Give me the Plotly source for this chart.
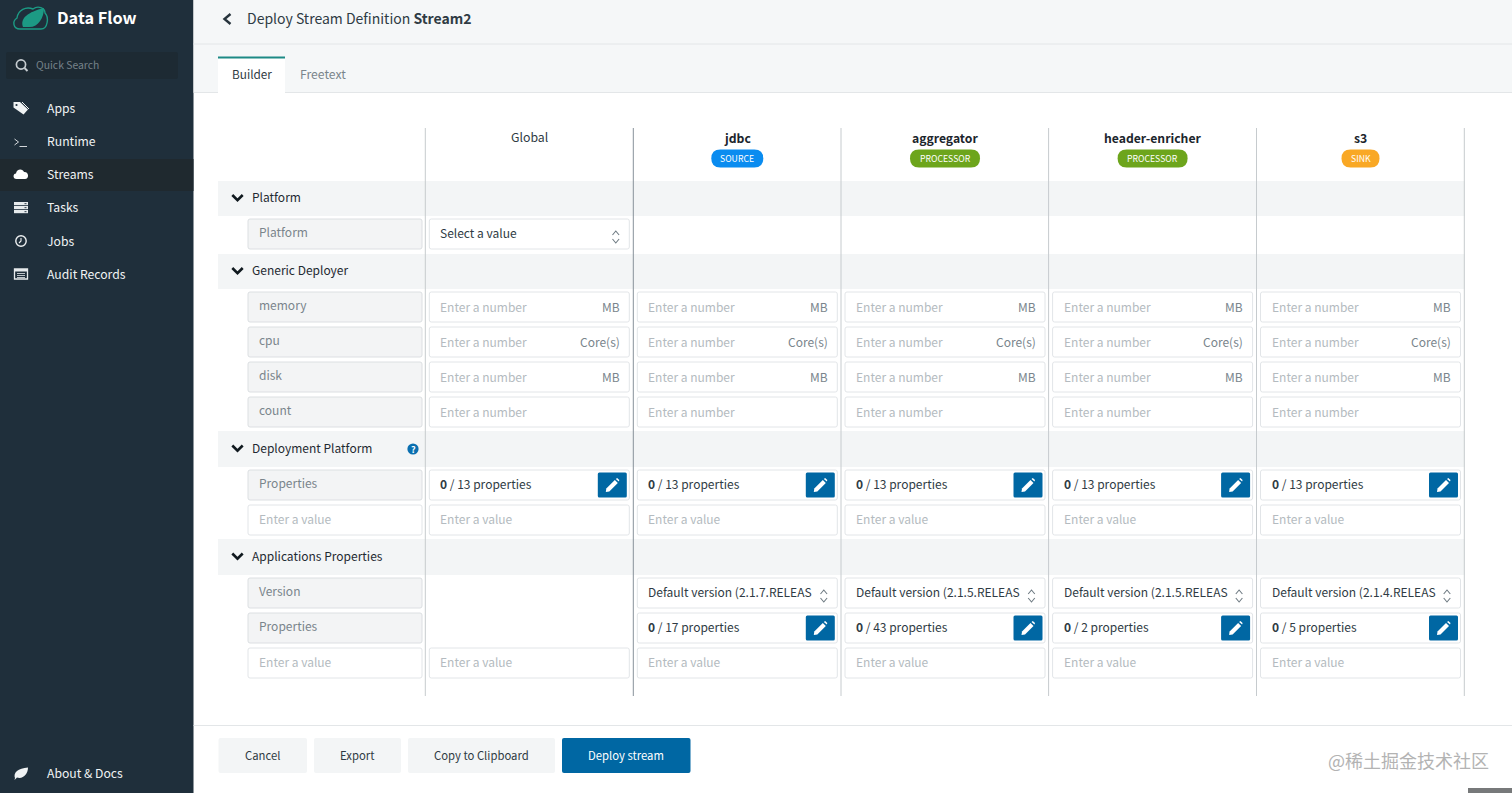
import plotly.graph_objects as go

# text content of the screen
nav_items = ["Apps", "Runtime", "Streams", "Tasks", "Jobs", "Audit Records"]
columns = ["Global", "jdbc", "aggregator", "header-enricher", "s3"]
badges = [None, "SOURCE", "PROCESSOR", "PROCESSOR", "SINK"]
generic_rows = ["memory", "cpu", "disk", "count"]
generic_units = ["MB", "Core(s)", "MB", None]
deploy_props = [13, 13, 13, 13, 13]
app_versions = [None, "2.1.7.RELEAS", "2.1.5.RELEAS", "2.1.5.RELEAS", "2.1.4.RELEAS"]
app_props = [None, 17, 43, 2, 5]
footer_buttons = ["Cancel", "Export", "Copy to Clipboard", "Deploy stream"]

FONT = "Noto Sans CJK SC"
BODY = 12
DARK = "#1f2f3b"
TEXT = "#2f3b44"
MUTED = "#7a858c"
HOLDER = "#b4bbc0"
BLUE = "#0067a3"
BAND = "#f3f5f6"
EDGE = "#e2e5e8"
LABEL_EDGE = "#dcdfe2"
BADGE_COLORS = {"SOURCE": "#0a8cf0", "PROCESSOR": "#6da51c", "SINK": "#f9a825"}

shapes = []
notes = []


def rect(x0, y0, x1, y1, fill, line=None, r=0, lw=1):
    if r:
        path = (f"M{x0+r},{y0} L{x1-r},{y0} Q{x1},{y0} {x1},{y0+r} L{x1},{y1-r} Q{x1},{y1} {x1-r},{y1} "
                f"L{x0+r},{y1} Q{x0},{y1} {x0},{y1-r} L{x0},{y0+r} Q{x0},{y0} {x0+r},{y0} Z")
        shapes.append(dict(type="path", path=path, fillcolor=fill, line=dict(color=line or fill, width=lw if line else 0)))
    else:
        shapes.append(dict(type="rect", x0=x0, y0=y0, x1=x1, y1=y1, fillcolor=fill, line=dict(color=line or fill, width=lw if line else 0)))


def stroke(path, color, lw=1.0):
    shapes.append(dict(type="path", path=path, line=dict(color=color, width=lw)))


def blob(path, color):
    shapes.append(dict(type="path", path=path, fillcolor=color, line=dict(color=color, width=0)))


def circle(cx, cy, r, fill=None, line=None, lw=1.0):
    shapes.append(dict(type="circle", x0=cx-r, y0=cy-r, x1=cx+r, y1=cy+r, fillcolor=fill or "rgba(0,0,0,0)",
                       line=dict(color=line or fill, width=lw if line else 0)))


def text(x, y, s, size=BODY, color=TEXT, anchor="left"):
    # annotations sit about a pixel low and, when left aligned, a pixel right
    if anchor == "left":
        x -= 1
    notes.append(dict(x=x, y=y - 1, text=s, showarrow=False, xanchor=anchor, yanchor="middle", borderpad=0,
                      font=dict(family=FONT, size=size, color=color)))


def chevron(cx, cy, half, depth, color, lw):
    stroke(f"M{cx-half},{cy} L{cx},{cy+depth} L{cx+half},{cy}", color, lw)


# sidebar
rect(0, 0, 193.5, 793, DARK)
rect(0, 159, 193.5, 191, "#1f292f")
rect(6, 52, 178, 79, "#1d2a33", r=2)
text(57, 18, "<b>Data Flow</b>", 16.3, "#ffffff")
text(36, 65, "Quick Search", 10.4, "#76828a")
circle(21, 64.5, 4.6, line="#c6ccd0", lw=1.7)
stroke("M24.5,68 L27.5,71", "#c6ccd0", 1.9)
nav_y = [109, 142, 175, 208, 242, 275]
for name, y in zip(nav_items, nav_y):
    text(47, y, name, 12.2, "#f0f3f4")
text(47, 774, "About & Docs", 12.2, "#f0f3f4")

# logo
stroke("M20,29 C13,29 12,21 17,18 C18,10 26,6 33,9 C38,5 45,8 45,13 C49,17 48,29 41,29 Z", "#1c9a84", 1.4)
blob("M23,27 C20,18 28,12 44,8 C44,18 38,28 28,27 Z", "#1c9a84")

# nav icons
blob("M13.5,102 L20,102 L28,109.5 L23.5,114.5 L13.5,107.5 Z", "#f0f3f4")
stroke("M22,102 L29,109", "#f0f3f4", 1)
circle(16.5, 105, 1.1, fill=DARK)
stroke("M14.5,139 L18.5,142 L14.5,145 M19.5,146.5 L27,146.5", "#e6eaec", 0.9)
blob("M16.5,179 C12.5,179 12.8,173.5 16,173.5 C16.5,168.5 23,168.5 24,172 C29,171.5 29.5,179 25,179 Z", "#ffffff")
for y in (202, 206, 210):
    rect(14, y, 28, y + 3.2, "#e6eaec")
    rect(24.5, y + 1, 26.5, y + 2.2, "#4a5964")
circle(21, 241, 5.2, line="#eef1f2", lw=1.4)
stroke("M21,238 L21,241 L19,243", "#eef1f2", 1.1)
rect(14.5, 269, 27.5, 279, "#1f2f3b", line="#e6eaec", lw=1.3)
rect(14.5, 269, 27.5, 271.5, "#e6eaec")
for y in (273.5, 275.5, 277.5):
    stroke(f"M17,{y} L25,{y}", "#e6eaec", 0.8)
blob("M15,778 C13,773 18,768 28,767.5 C28,774 23,779.5 17,777.5 L14.5,780 Z", "#f0f3f4")

# top bars
rect(193.5, 0, 1512, 92, "#f5f7f8")
stroke("M193.5,44 L1512,44", "#e3e6e8", 1)
stroke("M193.5,92.5 L1512,92.5", "#e3e6e8", 1)
stroke("M230.5,14 L224.5,19 L230.5,24", "#27343d", 2.4)
text(247, 19, "Deploy Stream Definition <b>Stream2</b>", 14, TEXT)
rect(218, 57, 285, 93, "#ffffff")
rect(218, 56.5, 285, 58.5, "#1d8a85")
text(252, 74.5, "Builder", 11.8, TEXT, "center")
text(323, 74.5, "Freetext", 12.2, MUTED, "center")

# section bands
section_rows = [("Platform", 181, 216), ("Generic Deployer", 254, 289),
                ("Deployment Platform", 431, 467), ("Applications Properties", 539, 575)]
for name, y0, y1 in section_rows:
    rect(218, y0, 1464.5, y1, BAND)
    ym = (y0 + y1) / 2 - 1
    chevron(237.5, ym - 2.5, 5.2, 5.2, "#10191f", 2.6)
    text(252, ym, name, 12, "#1f2a32")
circle(413, 449, 5.6, fill="#0a6fb0")
text(413, 450, "<b>?</b>", 9, "#ffffff", "center")

# column rules and headers
col_lines = [425.3, 633.3, 841, 1048.6, 1256.5]
for x in col_lines + [1464.3]:
    color = "#87919a" if x == 633.3 else "#c6cbce"
    shapes.append(dict(type="line", x0=x, x1=x, y0=128, y1=696, line=dict(color=color, width=1)))

for x, name, badge in zip(col_lines, columns, badges):
    cx = x + 104
    if badge is None:
        text(cx, 137.5, name, 12.3, TEXT, "center")
        continue
    text(cx, 138.5, f"<b>{name}</b>", 12.2, "#1b252c", "center")
    half = {"SOURCE": 26, "PROCESSOR": 35, "SINK": 19}[badge]
    rect(cx - half, 149.5, cx + half, 167.5, BADGE_COLORS[badge], r=9)
    text(cx, 159, badge, 8.7, "#ffffff", "center")


def label_box(y, s, filled=True):
    if filled:
        rect(248, y, 422, y + 30, "#f3f4f5", line=LABEL_EDGE, r=2)
        text(258.5, y + 13.5, s, BODY, MUTED)
    else:
        rect(248, y, 422, y + 30, "#ffffff", line=EDGE, r=2)
        text(258.5, y + 14.5, s, BODY, HOLDER)


def cell(x, y):
    rect(x + 4, y, x + 204, y + 30, "#ffffff", line=EDGE, r=2)


def spinner(x, y):
    cx = x + 190.5
    stroke(f"M{cx-3.3},{y+16} L{cx},{y+12} L{cx+3.3},{y+16}", "#6f7b83", 1.1)
    stroke(f"M{cx-3.3},{y+20} L{cx},{y+24} L{cx+3.3},{y+20}", "#6f7b83", 1.1)


def pencil_button(x, y):
    rect(x + 172.5, y + 2.5, x + 201.5, y + 27.5, BLUE, r=1.5)
    cx, cy = x + 187, y + 15
    blob(f"M{cx-6},{cy+3.5} L{cx+2.5},{cy-5} L{cx+5.5},{cy-2} L{cx-3},{cy+6.5} L{cx-6.5},{cy+7} Z", "#ffffff")
    blob(f"M{cx+3.5},{cy-6} L{cx+4.8},{cy-7} L{cx+7},{cy-5} L{cx+6.5},{cy-3.5} Z", "#ffffff")


# Platform row
label_box(219, "Platform")
cell(col_lines[0], 219)
text(col_lines[0] + 15, 233.5, "Select a value", BODY, TEXT)
spinner(col_lines[0], 219)

# Generic Deployer rows
for y, name, unit in zip([292, 327, 362, 397], generic_rows, generic_units):
    label_box(y, name)
    for x in col_lines:
        cell(x, y)
        text(x + 15, y + 15, "Enter a number", BODY, HOLDER)
        if unit:
            text(x + 195.5, y + 15, unit, BODY, MUTED, "right")

# Deployment Platform rows
label_box(470, "Properties")
label_box(505, "Enter a value", filled=False)
for x, n in zip(col_lines, deploy_props):
    cell(x, 470)
    text(x + 15, 484, f"<b>0</b> / {n} properties", BODY, TEXT)
    pencil_button(x, 470)
    cell(x, 505)
    text(x + 15, 519.5, "Enter a value", BODY, HOLDER)

# Applications Properties rows
label_box(578, "Version")
label_box(613, "Properties")
label_box(648, "Enter a value", filled=False)
for x, ver, n in zip(col_lines, app_versions, app_props):
    if ver:
        cell(x, 578)
        text(x + 15, 592, f"Default version ({ver}", BODY, TEXT)
        spinner(x, 578)
        cell(x, 613)
        text(x + 15, 627, f"<b>0</b> / {n} properties", BODY, TEXT)
        pencil_button(x, 613)
    cell(x, 648)
    text(x + 15, 662.5, "Enter a value", BODY, HOLDER)

# footer
stroke("M193.5,725.5 L1512,725.5", "#e3e6e8", 1)
button_edges = [(218.5, 307), (314, 401), (408, 555), (562, 690.5)]
for (x0, x1), name in zip(button_edges, footer_buttons):
    is_main = name == "Deploy stream"
    rect(x0, 738, x1, 773, BLUE if is_main else "#f3f5f6", r=2)
    text((x0 + x1) / 2, 755.5, name, 11.3, "#ffffff" if is_main else TEXT, "center")
text(1490, 760.5, "@稀土掘金技术社区", 18, "#b3b3b3", "right")
rect(1468, 788, 1512, 793, "#77797a")

fig = go.Figure()
fig.update_layout(
    width=1512, height=793, margin=dict(l=0, r=0, t=0, b=0),
    paper_bgcolor="#ffffff", plot_bgcolor="#ffffff", showlegend=False,
    xaxis=dict(range=[0, 1512], visible=False, fixedrange=True),
    yaxis=dict(range=[793, 0], visible=False, fixedrange=True),
    shapes=shapes, annotations=notes,
)
fig.write_html("out.html", config=dict(displayModeBar=False),
               post_script="document.body.style.margin='0';document.body.style.overflow='hidden';")
